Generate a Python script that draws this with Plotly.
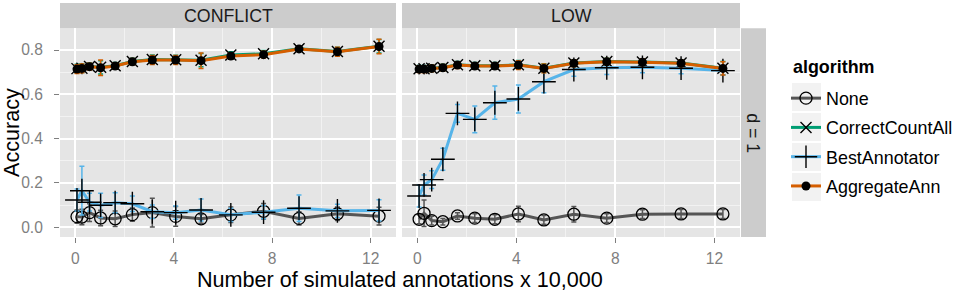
import plotly.graph_objects as go

# ---------------- data ----------------
x_vals = [0.07, 0.27, 0.58, 1.03, 1.62, 2.32, 3.13, 4.08, 5.11, 6.32, 7.65, 9.09, 10.65, 12.34]
panels = ["CONFLICT", "LOW"]
algorithms = ["None", "CorrectCountAll", "BestAnnotator", "AggregateAnn"]

# CONFLICT panel
none_conf = [0.048, 0.046, 0.066, 0.042, 0.038, 0.057, 0.066, 0.049, 0.038, 0.056, 0.072, 0.040, 0.061, 0.050]
none_conf_err = [0.03, 0.035, 0.04, 0.035, 0.035, 0.03, 0.065, 0.045, 0.02, 0.035, 0.035, 0.03, 0.03, 0.04]
ccall_conf = [0.716, 0.718, 0.726, 0.722, 0.729, 0.748, 0.757, 0.756, 0.754, 0.777, 0.783, 0.806, 0.793, 0.817]
ccall_conf_err = [0.02, 0.02, 0.015, 0.03, 0.015, 0.015, 0.02, 0.02, 0.03, 0.015, 0.015, 0.01, 0.02, 0.03]
best_conf = [0.123, 0.165, 0.113, 0.099, 0.111, 0.106, 0.070, 0.066, 0.078, 0.056, 0.068, 0.086, 0.074, 0.076]
best_conf_err = [0.05, 0.11, 0.04, 0.055, 0.045, 0.035, 0.03, 0.03, 0.05, 0.03, 0.03, 0.06, 0.03, 0.048]
agg_conf = [0.714, 0.717, 0.725, 0.720, 0.728, 0.747, 0.755, 0.755, 0.752, 0.773, 0.779, 0.805, 0.792, 0.816]
agg_conf_err = [0.02, 0.02, 0.015, 0.035, 0.015, 0.015, 0.02, 0.02, 0.035, 0.015, 0.015, 0.01, 0.02, 0.033]

# LOW panel
none_low = [0.036, 0.063, 0.030, 0.025, 0.051, 0.041, 0.036, 0.060, 0.033, 0.059, 0.041, 0.059, 0.060, 0.060]
none_low_err = [0.02, 0.06, 0.02, 0.015, 0.015, 0.02, 0.02, 0.035, 0.02, 0.035, 0.02, 0.02, 0.02, 0.02]
ccall_low = [0.715, 0.715, 0.718, 0.721, 0.733, 0.729, 0.729, 0.733, 0.718, 0.741, 0.748, 0.746, 0.741, 0.718]
ccall_low_err = [0.015, 0.015, 0.015, 0.015, 0.015, 0.015, 0.015, 0.02, 0.02, 0.015, 0.015, 0.015, 0.015, 0.03]
best_low = [0.141, 0.191, 0.215, 0.307, 0.514, 0.487, 0.562, 0.579, 0.657, 0.712, 0.720, 0.722, 0.718, 0.707]
best_low_err = [0.05, 0.045, 0.04, 0.05, 0.04, 0.06, 0.075, 0.063, 0.05, 0.03, 0.03, 0.025, 0.025, 0.02]
agg_low = [0.714, 0.714, 0.717, 0.720, 0.732, 0.728, 0.728, 0.732, 0.717, 0.740, 0.747, 0.745, 0.740, 0.717]
agg_low_err = [0.015, 0.015, 0.015, 0.015, 0.015, 0.015, 0.015, 0.02, 0.02, 0.015, 0.015, 0.015, 0.015, 0.03]

x_ticks = [0, 4, 8, 12]
y_ticks = [0.0, 0.2, 0.4, 0.6, 0.8]
y_tick_text = ["0.0", "0.2", "0.4", "0.6", "0.8"]

series = {
    "CONFLICT": {
        "None": (none_conf, none_conf_err),
        "CorrectCountAll": (ccall_conf, ccall_conf_err),
        "BestAnnotator": (best_conf, best_conf_err),
        "AggregateAnn": (agg_conf, agg_conf_err),
    },
    "LOW": {
        "None": (none_low, none_low_err),
        "CorrectCountAll": (ccall_low, ccall_low_err),
        "BestAnnotator": (best_low, best_low_err),
        "AggregateAnn": (agg_low, agg_low_err),
    },
}

# ---------------- styles ----------------
colors = {
    "None": "#555555",
    "CorrectCountAll": "#009E73",
    "BestAnnotator": "#56B4E9",
    "AggregateAnn": "#D55E00",
}
markers = {
    "None": dict(symbol="circle-open", size=12, color="black", line=dict(width=1.3, color="black")),
    "CorrectCountAll": dict(symbol="x-thin", size=11, color="black", line=dict(width=1.4, color="black")),
    "BestAnnotator": dict(symbol="cross-thin", size=17, color="black", line=dict(width=1.4, color="black")),
    "AggregateAnn": dict(symbol="circle", size=9, color="black", line=dict(width=0)),
}

FONT = "Liberation Sans, Arial, sans-serif"
TICK_SIZE = 15.6
STRIP_SIZE = 17.8
LEGEND_SIZE = 17.9
TITLE_SIZE = 21.6
W, H = 954, 292
# pixel geometry
L1, R1 = 60, 396
L2, R2 = 402, 740
TOP, BOT = 28.3, 237
STRIP_TOP = 3

def px_x(p):
    return p / W

def px_y(p):
    return 1 - p / H

fig = go.Figure()

for pi, panel in enumerate(panels):
    xa = "x" if pi == 0 else "x2"
    ya = "y" if pi == 0 else "y2"
    for alg in algorithms:
        vals, errs = series[panel][alg]
        fig.add_trace(go.Scatter(
            x=x_vals, y=vals, xaxis=xa, yaxis=ya,
            mode="lines+markers",
            name=alg, legendgroup=alg, showlegend=(pi == 0),
            line=dict(color=colors[alg], width=3),
            marker=markers[alg],
            error_y=dict(type="data", array=errs, visible=True,
                         color=colors[alg], thickness=1.5, width=2.5),
        ))

axis_common = dict(
    range=[-0.62, 13.03], tickvals=x_ticks, ticktext=[str(t) for t in x_ticks],
    showgrid=True, gridcolor="white", gridwidth=1.6,
    minor=dict(dtick=2, tick0=0, showgrid=True, gridcolor="#F2F2F2", gridwidth=0.7, ticks=""),
    ticks="outside", ticklen=5, tickwidth=1.2, tickcolor="#7F7F7F",
    tickfont=dict(family=FONT, size=TICK_SIZE, color="#7F7F7F"),
    ticklabelstandoff=2,
    zeroline=False, showline=False, fixedrange=True,
)
yaxis_common = dict(
    range=[-0.044, 0.898], tickvals=y_ticks, ticktext=y_tick_text,
    showgrid=True, gridcolor="white", gridwidth=1.6,
    minor=dict(dtick=0.1, tick0=0.1, showgrid=True, gridcolor="#F2F2F2", gridwidth=0.7, ticks=""),
    ticks="outside", ticklen=5, tickwidth=1.2, tickcolor="#7F7F7F",
    zeroline=False, showline=False, fixedrange=True,
)

fig.update_layout(
    width=W, height=H,
    margin=dict(l=0, r=0, t=0, b=0, autoexpand=False),
    paper_bgcolor="white",
    plot_bgcolor="#E5E5E5",
    font=dict(family=FONT, size=15, color="black"),
    xaxis=dict(domain=[px_x(L1), px_x(R1)], anchor="y", **axis_common),
    xaxis2=dict(domain=[px_x(L2), px_x(R2)], anchor="y2", **axis_common),
    yaxis=dict(domain=[px_y(BOT), px_y(TOP)], anchor="x",
               tickfont=dict(family=FONT, size=TICK_SIZE, color="#7F7F7F"),
               ticklabelstandoff=8, **yaxis_common),
    yaxis2=dict(domain=[px_y(BOT), px_y(TOP)], anchor="x2", matches="y",
                showticklabels=False, **{**yaxis_common, "ticks": ""}),
    legend=dict(
        x=px_x(786), y=px_y(80), xanchor="left", yanchor="top",
        bgcolor="rgba(0,0,0,0)",
        font=dict(family=FONT, size=LEGEND_SIZE, color="black"),
        tracegroupgap=3,
        itemclick=False, itemdoubleclick=False,
    ),
)

shapes = []
# strips
for (l, r), label in zip([(L1, R1), (L2, R2)], panels):
    shapes.append(dict(type="rect", xref="paper", yref="paper",
                       x0=px_x(l), x1=px_x(r), y0=px_y(TOP), y1=px_y(STRIP_TOP),
                       fillcolor="#CCCCCC", line=dict(width=0), layer="below"))
    fig.add_annotation(x=px_x((l + r) / 2), y=px_y((TOP + STRIP_TOP) / 2), xref="paper", yref="paper",
                       text=label, showarrow=False, font=dict(family=FONT, size=STRIP_SIZE, color="#1A1A1A"),
                       xanchor="center", yanchor="middle")
shapes.append(dict(type="rect", xref="paper", yref="paper",
                   x0=px_x(741), x1=px_x(766), y0=px_y(BOT), y1=px_y(TOP),
                   fillcolor="#CCCCCC", line=dict(width=0), layer="below"))
fig.add_annotation(x=px_x(753.5), y=px_y((TOP + BOT) / 2), xref="paper", yref="paper",
                   text="d = 1", textangle=90, showarrow=False,
                   font=dict(family=FONT, size=STRIP_SIZE, color="#1A1A1A"),
                   xanchor="center", yanchor="middle")
# legend key backgrounds
for i in range(4):
    cy = 97 + 30 * i
    shapes.append(dict(type="rect", xref="paper", yref="paper",
                       x0=px_x(792), x1=px_x(821), y0=px_y(cy + 14), y1=px_y(cy - 14),
                       fillcolor="#F2F2F2", line=dict(width=0), layer="below"))
fig.update_layout(shapes=shapes)

# legend title
fig.add_annotation(x=px_x(791), y=px_y(67), xref="paper", yref="paper",
                   text="<b>algorithm</b>", showarrow=False,
                   font=dict(family=FONT, size=LEGEND_SIZE, color="black"),
                   xanchor="left", yanchor="middle")

# axis titles
fig.add_annotation(x=px_x(400), y=px_y(279), xref="paper", yref="paper",
                   text="Number of simulated annotations x 10,000", showarrow=False,
                   font=dict(family=FONT, size=TITLE_SIZE, color="black"),
                   xanchor="center", yanchor="middle")
fig.add_annotation(x=px_x(12), y=px_y(133), xref="paper", yref="paper",
                   text="Accuracy", textangle=-90, showarrow=False,
                   font=dict(family=FONT, size=TITLE_SIZE, color="black"),
                   xanchor="center", yanchor="middle")

fig.write_html("out.html")
